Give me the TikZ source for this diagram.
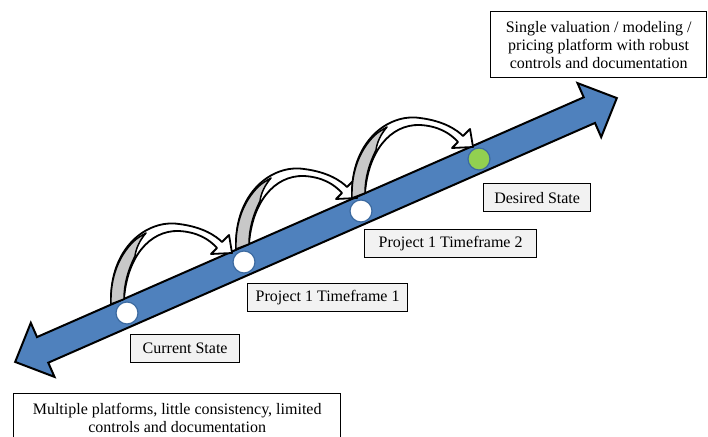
\documentclass[tikz,border=0pt]{standalone}
\usepackage{fontspec}
\setmainfont{Liberation Serif}
\usetikzlibrary{positioning}
\definecolor{axisblue}{HTML}{4F81BD}
\definecolor{ringblue}{HTML}{3C6AA0}
\definecolor{goalgreen}{HTML}{92D050}
\definecolor{tagfill}{HTML}{F2F2F2}
\definecolor{leggray}{HTML}{C8C8C8}
\tikzset{
  stage/.style={circle,fill=white,draw=ringblue,line width=1.2pt,minimum size=22pt,inner sep=0pt},
  tag/.style={draw,fill=tagfill,line width=1.3pt,minimum height=28pt,inner xsep=6pt,font=\fontsize{16}{18}\selectfont},
  note/.style={draw,fill=white,line width=1.3pt,align=center,font=\fontsize{16}{18}\selectfont},
  pics/hop/.style={code={
    \filldraw[fill=white,line width=1.8pt,line join=round] (-6,-6) .. controls (-8,50) and (30,79) .. (62,74)
      .. controls (86,71) and (99,62) .. (105,56) -- (112,63) -- (115,45) -- (94,44) -- (100,50)
      .. controls (92,59) and (80,66) .. (62,67) .. controls (32,68) and (10,40) .. (7,-1) -- cycle;
    \filldraw[fill=leggray,line width=1.5pt,line join=round] (-6,-6) .. controls (-7,22) and (3,43) .. (16,56)
      .. controls (20,60) and (24,62) .. (29,65) .. controls (23,58) and (19,50) .. (18,42)
      .. controls (11,28) and (7,14) .. (7,-1) -- cycle;
  }}
}
\begin{document}
\begin{tikzpicture}[x=1pt,y=1pt]
\useasboundingbox (0,0) rectangle (708,436);
% double headed timeline
\filldraw[fill=axisblue,line width=2pt,shift={(316,206)},rotate=23.68]
  (-328.5,0) -- (-298.5,29.5) -- (-298.5,14) -- (298.5,14) -- (298.5,29.5) -- (328.5,0)
  -- (298.5,-29.5) -- (298.5,-14) -- (-298.5,-14) -- (-298.5,-29.5) -- cycle;
% stages on the line
\node[stage] (s0) at (127,123) {};
\node[stage] (s1) at (244,174) {};
\node[stage] (s2) at (361,225) {};
\node[stage,fill=goalgreen] (s3) at (479,277) {};
% hops between stages
\pic at ([shift={(-10,15)}]s0) {hop};
\pic at ([shift={(-2,19)}]s1) {hop};
\pic at ([shift={(-3,19)}]s2) {hop};
% stage labels
\node[tag,minimum width=109pt,below right=21pt and 3pt of s0.center] (now) {Current State};
\node[tag,minimum width=160pt,below right=21pt and 3pt of s1.center] (tf1) {Project 1 Timeframe 1};
\node[tag,minimum width=172pt,below right=18pt and 3pt of s2.center] (tf2) {Project 1 Timeframe 2};
\node[tag,minimum width=107pt,below right=24pt and 4pt of s3.center] (goal) {Desired State};
% end points
\node[note,anchor=north west,minimum width=327pt,minimum height=49pt] (legacy) at (13,43)
  {Multiple platforms, little consistency, limited\\controls and documentation};
\node[note,anchor=north west,minimum width=216pt,minimum height=66pt] (target) at (490,425)
  {Single valuation / modeling /\\pricing platform with robust\\controls and documentation};
\end{tikzpicture}
\end{document}
